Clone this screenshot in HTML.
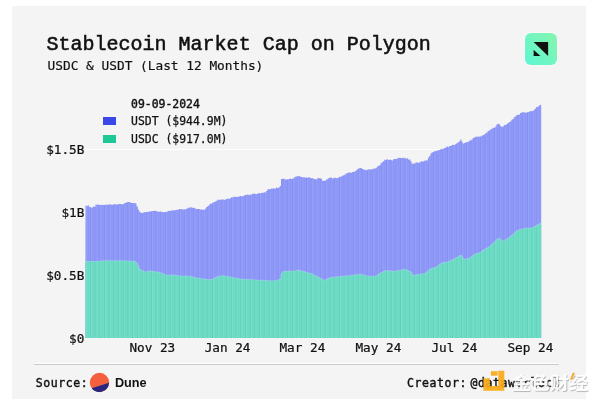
<!DOCTYPE html>
<html lang="en">
<head>
<meta charset="utf-8">
<title>Stablecoin Market Cap on Polygon</title>
<style>
html,body{margin:0;padding:0;background:#fff;}
body{width:600px;height:403px;position:relative;overflow:hidden;font-family:"Liberation Mono","DejaVu Sans Mono",monospace;color:#111;}
.panel{position:absolute;left:12.2px;top:5.8px;width:573.8px;height:393.7px;background:#f4f4f4;}
.t{position:absolute;white-space:pre;line-height:1;-webkit-text-stroke:0.3px #111;}
.title{left:46.6px;top:35px;font-size:20px;-webkit-text-stroke:0.55px #111;}
.dv{font-family:"DejaVu Sans Mono","Liberation Mono",monospace;-webkit-text-stroke:0.25px #111;}
.sub{left:47.6px;top:60.2px;font-size:12.8px;-webkit-text-stroke:0.18px #111;}
.lg{font-size:11.45px;}
.sw{position:absolute;width:13px;height:8px;}
.yt{-webkit-text-stroke:0.22px #111;font-size:12.7px;text-align:right;width:60px;left:24.4px;}
.xt{-webkit-text-stroke:0.22px #111;font-size:12.7px;text-align:center;width:80px;}
.foot{font-family:"DejaVu Sans Mono","Liberation Mono",monospace;font-size:11.5px;letter-spacing:0.58px;-webkit-text-stroke:0.4px #111;}
.sep{position:absolute;left:33.5px;top:363.9px;width:525.8px;height:1px;background:#cbcbcb;box-shadow:0 -1px 0 rgba(255,255,255,.7);}
.grid{position:absolute;left:85px;width:356px;height:1px;background:#fff;}
.dune{position:absolute;left:114.9px;top:376.9px;font:bold 12.7px "Liberation Sans",Arial,sans-serif;line-height:1;color:#111;}
svg{position:absolute;left:0;top:0;}
.wm{position:absolute;left:511.8px;top:375.3px;font:bold 19.2px "Liberation Sans","Noto Sans CJK SC","WenQuanYi Zen Hei",sans-serif;letter-spacing:-0.15px;line-height:1;color:rgba(255,255,255,.94);text-shadow:0.8px 0.8px 0.8px rgba(0,0,0,.25),0 0 2px rgba(255,255,255,.6);white-space:nowrap;transform-origin:0 0;transform:scaleY(0.885);}
</style>
</head>
<body>
<div class="panel"></div>
<div class="t title">Stablecoin Market Cap on Polygon</div>
<div class="t dv sub">USDC &amp; USDT (Last 12 Months)</div>

<div class="grid" style="top:149px"></div>

<svg width="600" height="403" viewBox="0 0 600 403">
  <defs>
    <linearGradient id="lgm" x1="0" y1="1" x2="1" y2="0">
      <stop offset="0" stop-color="#5df6d2"/>
      <stop offset="1" stop-color="#86f5ae"/>
    </linearGradient>
    <pattern id="stripes" width="4.7" height="8" patternUnits="userSpaceOnUse" x="0.6">
      <rect x="0" y="0" width="0.9" height="8" fill="#10206a" fill-opacity="0.09"/>
      <rect x="0.9" y="0" width="0.9" height="8" fill="#fff" fill-opacity="0.08"/>
      <rect x="2.6" y="0" width="0.7" height="8" fill="#1a1a80" fill-opacity="0.04"/>
    </pattern>
  </defs>
  <path fill="#8f99f9" d="M85.50 338.0V205.7h1.245V205.8h1.245V205.5h1.245V206.9h1.245V207.4h1.245V207.4h1.245V206.6h1.245V206.7h1.245V204.5h1.245V204.8h1.245V204.4h1.245V204.9h1.245V205.0h1.245V204.7h1.245V205.1h1.245V205.0h1.245V204.4h1.245V204.8h1.245V204.5h1.245V204.6h1.245V204.4h1.245V204.7h1.245V204.4h1.245V204.1h1.245V204.4h1.245V204.6h1.245V204.1h1.245V203.9h1.245V204.0h1.245V204.4h1.245V203.9h1.245V203.1h1.245V202.8h1.245V202.3h1.245V202.1h1.245V202.0h1.245V202.8h1.245V203.0h1.245V203.0h1.245V203.1h1.245V203.5h1.245V206.4h1.245V209.4h1.245V211.4h1.245V212.7h1.245V213.0h1.245V212.6h1.245V212.2h1.245V212.0h1.245V212.1h1.245V211.7h1.245V211.5h1.245V211.6h1.245V211.0h1.245V211.1h1.245V210.7h1.245V211.1h1.245V211.4h1.245V211.5h1.245V211.7h1.245V211.5h1.245V212.0h1.245V211.9h1.245V212.3h1.245V211.9h1.245V211.7h1.245V210.9h1.245V210.8h1.245V211.1h1.245V210.0h1.245V210.4h1.245V210.2h1.245V210.1h1.245V209.7h1.245V209.7h1.245V209.0h1.245V209.0h1.245V209.3h1.245V209.4h1.245V209.4h1.245V209.1h1.245V208.8h1.245V207.7h1.245V207.7h1.245V207.2h1.245V207.4h1.245V207.9h1.245V207.7h1.245V208.7h1.245V208.9h1.245V209.0h1.245V209.0h1.245V209.5h1.245V209.6h1.245V209.7h1.245V209.8h1.245V208.4h1.245V207.0h1.245V206.1h1.245V204.7h1.245V203.8h1.245V203.5h1.245V202.6h1.245V202.1h1.245V201.5h1.245V200.7h1.245V199.8h1.245V199.8h1.245V199.8h1.245V199.6h1.245V199.5h1.245V199.7h1.245V199.4h1.245V199.0h1.245V198.4h1.245V198.8h1.245V198.2h1.245V197.2h1.245V197.3h1.245V196.7h1.245V196.7h1.245V197.1h1.245V196.8h1.245V196.4h1.245V196.0h1.245V196.2h1.245V196.3h1.245V195.6h1.245V195.1h1.245V194.8h1.245V194.6h1.245V195.2h1.245V194.6h1.245V194.6h1.245V193.7h1.245V193.6h1.245V194.0h1.245V194.0h1.245V193.4h1.245V193.0h1.245V193.6h1.245V192.8h1.245V193.1h1.245V192.3h1.245V192.6h1.245V191.0h1.245V189.6h1.245V189.1h1.245V189.3h1.245V188.5h1.245V188.5h1.245V188.4h1.245V188.6h1.245V187.6h1.245V188.0h1.245V187.6h1.245V186.1h1.245V179.0h1.245V178.8h1.245V178.8h1.245V179.4h1.245V179.6h1.245V179.3h1.245V178.9h1.245V178.5h1.245V178.9h1.245V178.7h1.245V177.7h1.245V176.8h1.245V176.4h1.245V176.2h1.245V176.1h1.245V176.5h1.245V177.1h1.245V177.4h1.245V177.0h1.245V177.7h1.245V177.4h1.245V177.7h1.245V177.1h1.245V178.1h1.245V178.2h1.245V178.1h1.245V179.0h1.245V179.1h1.245V179.4h1.245V178.3h1.245V178.0h1.245V178.4h1.245V178.4h1.245V180.8h1.245V180.7h1.245V180.8h1.245V179.6h1.245V179.3h1.245V177.9h1.245V177.7h1.245V177.4h1.245V178.4h1.245V178.1h1.245V177.8h1.245V178.0h1.245V178.3h1.245V177.2h1.245V176.7h1.245V176.4h1.245V175.8h1.245V175.2h1.245V174.4h1.245V173.4h1.245V173.1h1.245V172.5h1.245V172.4h1.245V172.8h1.245V172.0h1.245V172.0h1.245V171.3h1.245V170.6h1.245V169.3h1.245V168.5h1.245V168.0h1.245V168.1h1.245V169.0h1.245V169.5h1.245V169.7h1.245V170.2h1.245V169.7h1.245V169.2h1.245V169.4h1.245V169.2h1.245V169.2h1.245V168.6h1.245V168.5h1.245V168.2h1.245V166.6h1.245V165.7h1.245V165.2h1.245V163.3h1.245V161.9h1.245V161.2h1.245V159.8h1.245V159.7h1.245V159.3h1.245V159.9h1.245V159.6h1.245V160.0h1.245V160.5h1.245V159.3h1.245V159.0h1.245V159.1h1.245V158.6h1.245V157.8h1.245V158.0h1.245V157.9h1.245V157.8h1.245V158.2h1.245V157.7h1.245V158.7h1.245V158.3h1.245V159.4h1.245V159.6h1.245V161.4h1.245V163.8h1.245V163.4h1.245V163.4h1.245V162.5h1.245V162.6h1.245V162.7h1.245V162.5h1.245V161.5h1.245V161.3h1.245V161.6h1.245V160.8h1.245V160.2h1.245V160.4h1.245V157.8h1.245V155.9h1.245V153.4h1.245V152.6h1.245V151.9h1.245V151.1h1.245V151.2h1.245V150.6h1.245V150.3h1.245V150.0h1.245V149.0h1.245V149.2h1.245V148.7h1.245V147.9h1.245V147.5h1.245V146.6h1.245V146.9h1.245V145.9h1.245V145.9h1.245V145.1h1.245V144.7h1.245V144.9h1.245V144.0h1.245V143.1h1.245V142.2h1.245V141.3h1.245V139.4h1.245V141.7h1.245V143.6h1.245V143.1h1.245V142.5h1.245V142.0h1.245V141.7h1.245V140.8h1.245V140.2h1.245V139.4h1.245V138.0h1.245V137.4h1.245V136.7h1.245V136.7h1.245V136.6h1.245V136.8h1.245V136.4h1.245V135.8h1.245V135.0h1.245V134.4h1.245V133.2h1.245V132.6h1.245V131.1h1.245V130.5h1.245V129.4h1.245V128.8h1.245V127.8h1.245V127.8h1.245V126.6h1.245V124.5h1.245V123.7h1.245V124.2h1.245V126.1h1.245V126.7h1.245V126.6h1.245V125.0h1.245V124.9h1.245V123.9h1.245V123.1h1.245V122.0h1.245V121.4h1.245V119.8h1.245V118.9h1.245V117.1h1.245V116.4h1.245V115.0h1.245V114.9h1.245V114.4h1.245V113.1h1.245V112.5h1.245V112.3h1.245V112.3h1.245V112.7h1.245V112.4h1.245V112.1h1.245V111.8h1.245V111.1h1.245V111.3h1.245V111.0h1.245V109.7h1.245V108.4h1.245V106.9h1.245V106.7h1.245V105.4h1.245V104.8h1.245V338.0z"/>
  <path fill="#6cdec4" d="M85.50 338.0V261.4h1.245V261.4h1.245V261.4h1.245V261.4h1.245V261.3h1.245V261.6h1.245V261.3h1.245V261.6h1.245V261.5h1.245V261.4h1.245V261.1h1.245V261.0h1.245V261.1h1.245V260.9h1.245V260.6h1.245V260.9h1.245V260.5h1.245V260.9h1.245V260.6h1.245V260.6h1.245V260.9h1.245V260.7h1.245V260.8h1.245V260.7h1.245V260.9h1.245V260.8h1.245V260.7h1.245V260.5h1.245V260.7h1.245V260.8h1.245V260.7h1.245V260.9h1.245V260.8h1.245V260.9h1.245V261.0h1.245V261.1h1.245V261.2h1.245V261.2h1.245V261.1h1.245V261.2h1.245V262.3h1.245V263.4h1.245V266.2h1.245V268.9h1.245V270.1h1.245V270.5h1.245V271.0h1.245V271.8h1.245V271.8h1.245V271.5h1.245V271.2h1.245V271.0h1.245V270.8h1.245V271.1h1.245V271.2h1.245V271.7h1.245V272.0h1.245V271.8h1.245V271.9h1.245V272.5h1.245V272.7h1.245V273.4h1.245V273.8h1.245V274.5h1.245V275.0h1.245V275.0h1.245V275.1h1.245V275.2h1.245V274.9h1.245V275.1h1.245V275.0h1.245V275.1h1.245V275.2h1.245V275.7h1.245V275.7h1.245V275.6h1.245V276.0h1.245V276.2h1.245V276.2h1.245V276.0h1.245V275.8h1.245V276.2h1.245V276.3h1.245V276.2h1.245V276.3h1.245V276.6h1.245V277.1h1.245V277.2h1.245V277.9h1.245V278.1h1.245V278.0h1.245V278.6h1.245V278.6h1.245V278.6h1.245V278.8h1.245V279.3h1.245V279.1h1.245V279.5h1.245V279.7h1.245V279.4h1.245V279.7h1.245V279.5h1.245V278.8h1.245V278.4h1.245V277.5h1.245V277.0h1.245V276.3h1.245V276.4h1.245V276.2h1.245V275.9h1.245V275.6h1.245V275.9h1.245V276.2h1.245V276.2h1.245V276.6h1.245V276.8h1.245V277.0h1.245V277.3h1.245V277.8h1.245V277.7h1.245V278.0h1.245V278.2h1.245V278.3h1.245V278.8h1.245V279.1h1.245V279.2h1.245V279.1h1.245V279.1h1.245V279.4h1.245V279.4h1.245V279.5h1.245V279.6h1.245V279.4h1.245V279.9h1.245V279.6h1.245V279.9h1.245V280.1h1.245V280.0h1.245V280.0h1.245V280.2h1.245V280.4h1.245V280.3h1.245V280.1h1.245V280.5h1.245V280.2h1.245V280.6h1.245V280.7h1.245V280.4h1.245V280.7h1.245V280.9h1.245V280.7h1.245V280.8h1.245V280.4h1.245V280.3h1.245V280.0h1.245V279.9h1.245V278.8h1.245V273.8h1.245V271.8h1.245V271.6h1.245V271.6h1.245V271.1h1.245V271.2h1.245V270.9h1.245V271.1h1.245V271.3h1.245V271.1h1.245V271.0h1.245V270.9h1.245V270.4h1.245V270.1h1.245V270.3h1.245V270.5h1.245V271.0h1.245V271.3h1.245V271.4h1.245V271.8h1.245V272.3h1.245V272.7h1.245V273.1h1.245V273.3h1.245V273.5h1.245V274.4h1.245V274.7h1.245V275.7h1.245V275.9h1.245V276.9h1.245V277.3h1.245V278.2h1.245V278.6h1.245V279.6h1.245V280.3h1.245V280.1h1.245V279.5h1.245V278.8h1.245V278.3h1.245V277.8h1.245V277.2h1.245V277.3h1.245V277.2h1.245V277.1h1.245V276.7h1.245V276.9h1.245V276.4h1.245V276.6h1.245V276.3h1.245V276.0h1.245V276.2h1.245V275.7h1.245V276.0h1.245V275.8h1.245V275.8h1.245V275.7h1.245V275.3h1.245V275.1h1.245V275.0h1.245V274.7h1.245V274.9h1.245V274.5h1.245V274.4h1.245V274.3h1.245V274.2h1.245V274.5h1.245V274.9h1.245V275.4h1.245V275.7h1.245V275.9h1.245V275.9h1.245V276.2h1.245V275.9h1.245V276.3h1.245V276.4h1.245V276.4h1.245V275.5h1.245V274.9h1.245V274.1h1.245V273.4h1.245V272.6h1.245V272.2h1.245V271.4h1.245V270.7h1.245V270.6h1.245V270.5h1.245V270.9h1.245V270.8h1.245V270.8h1.245V271.2h1.245V271.0h1.245V271.4h1.245V271.2h1.245V270.7h1.245V270.5h1.245V270.4h1.245V270.1h1.245V269.8h1.245V269.4h1.245V269.2h1.245V269.7h1.245V270.1h1.245V270.8h1.245V271.3h1.245V272.6h1.245V274.2h1.245V275.5h1.245V275.1h1.245V275.0h1.245V274.5h1.245V274.3h1.245V274.2h1.245V274.1h1.245V273.7h1.245V273.8h1.245V273.6h1.245V272.7h1.245V271.7h1.245V270.4h1.245V269.3h1.245V268.8h1.245V268.3h1.245V268.0h1.245V267.7h1.245V267.0h1.245V266.5h1.245V265.4h1.245V264.4h1.245V263.8h1.245V262.9h1.245V262.5h1.245V262.4h1.245V262.3h1.245V261.9h1.245V261.4h1.245V261.2h1.245V260.3h1.245V259.9h1.245V259.3h1.245V258.9h1.245V257.8h1.245V257.4h1.245V256.7h1.245V255.8h1.245V255.1h1.245V256.5h1.245V258.6h1.245V259.3h1.245V259.3h1.245V258.6h1.245V258.5h1.245V257.9h1.245V257.0h1.245V256.3h1.245V255.3h1.245V254.2h1.245V253.7h1.245V253.4h1.245V252.9h1.245V253.1h1.245V252.2h1.245V251.2h1.245V250.1h1.245V249.4h1.245V248.7h1.245V247.9h1.245V247.4h1.245V246.5h1.245V245.7h1.245V244.4h1.245V243.2h1.245V242.1h1.245V240.8h1.245V239.6h1.245V238.8h1.245V238.2h1.245V239.7h1.245V241.0h1.245V240.7h1.245V240.3h1.245V239.6h1.245V239.2h1.245V237.9h1.245V237.5h1.245V236.2h1.245V235.4h1.245V234.2h1.245V233.2h1.245V231.8h1.245V230.6h1.245V230.4h1.245V229.8h1.245V229.6h1.245V229.3h1.245V228.7h1.245V228.6h1.245V228.2h1.245V228.0h1.245V228.1h1.245V228.0h1.245V227.8h1.245V227.8h1.245V227.6h1.245V226.8h1.245V226.0h1.245V225.1h1.245V224.7h1.245V223.9h1.245V223.0h1.245V338.0z"/>
  <path fill="url(#stripes)" d="M85.50 338.0V205.7h1.245V205.8h1.245V205.5h1.245V206.9h1.245V207.4h1.245V207.4h1.245V206.6h1.245V206.7h1.245V204.5h1.245V204.8h1.245V204.4h1.245V204.9h1.245V205.0h1.245V204.7h1.245V205.1h1.245V205.0h1.245V204.4h1.245V204.8h1.245V204.5h1.245V204.6h1.245V204.4h1.245V204.7h1.245V204.4h1.245V204.1h1.245V204.4h1.245V204.6h1.245V204.1h1.245V203.9h1.245V204.0h1.245V204.4h1.245V203.9h1.245V203.1h1.245V202.8h1.245V202.3h1.245V202.1h1.245V202.0h1.245V202.8h1.245V203.0h1.245V203.0h1.245V203.1h1.245V203.5h1.245V206.4h1.245V209.4h1.245V211.4h1.245V212.7h1.245V213.0h1.245V212.6h1.245V212.2h1.245V212.0h1.245V212.1h1.245V211.7h1.245V211.5h1.245V211.6h1.245V211.0h1.245V211.1h1.245V210.7h1.245V211.1h1.245V211.4h1.245V211.5h1.245V211.7h1.245V211.5h1.245V212.0h1.245V211.9h1.245V212.3h1.245V211.9h1.245V211.7h1.245V210.9h1.245V210.8h1.245V211.1h1.245V210.0h1.245V210.4h1.245V210.2h1.245V210.1h1.245V209.7h1.245V209.7h1.245V209.0h1.245V209.0h1.245V209.3h1.245V209.4h1.245V209.4h1.245V209.1h1.245V208.8h1.245V207.7h1.245V207.7h1.245V207.2h1.245V207.4h1.245V207.9h1.245V207.7h1.245V208.7h1.245V208.9h1.245V209.0h1.245V209.0h1.245V209.5h1.245V209.6h1.245V209.7h1.245V209.8h1.245V208.4h1.245V207.0h1.245V206.1h1.245V204.7h1.245V203.8h1.245V203.5h1.245V202.6h1.245V202.1h1.245V201.5h1.245V200.7h1.245V199.8h1.245V199.8h1.245V199.8h1.245V199.6h1.245V199.5h1.245V199.7h1.245V199.4h1.245V199.0h1.245V198.4h1.245V198.8h1.245V198.2h1.245V197.2h1.245V197.3h1.245V196.7h1.245V196.7h1.245V197.1h1.245V196.8h1.245V196.4h1.245V196.0h1.245V196.2h1.245V196.3h1.245V195.6h1.245V195.1h1.245V194.8h1.245V194.6h1.245V195.2h1.245V194.6h1.245V194.6h1.245V193.7h1.245V193.6h1.245V194.0h1.245V194.0h1.245V193.4h1.245V193.0h1.245V193.6h1.245V192.8h1.245V193.1h1.245V192.3h1.245V192.6h1.245V191.0h1.245V189.6h1.245V189.1h1.245V189.3h1.245V188.5h1.245V188.5h1.245V188.4h1.245V188.6h1.245V187.6h1.245V188.0h1.245V187.6h1.245V186.1h1.245V179.0h1.245V178.8h1.245V178.8h1.245V179.4h1.245V179.6h1.245V179.3h1.245V178.9h1.245V178.5h1.245V178.9h1.245V178.7h1.245V177.7h1.245V176.8h1.245V176.4h1.245V176.2h1.245V176.1h1.245V176.5h1.245V177.1h1.245V177.4h1.245V177.0h1.245V177.7h1.245V177.4h1.245V177.7h1.245V177.1h1.245V178.1h1.245V178.2h1.245V178.1h1.245V179.0h1.245V179.1h1.245V179.4h1.245V178.3h1.245V178.0h1.245V178.4h1.245V178.4h1.245V180.8h1.245V180.7h1.245V180.8h1.245V179.6h1.245V179.3h1.245V177.9h1.245V177.7h1.245V177.4h1.245V178.4h1.245V178.1h1.245V177.8h1.245V178.0h1.245V178.3h1.245V177.2h1.245V176.7h1.245V176.4h1.245V175.8h1.245V175.2h1.245V174.4h1.245V173.4h1.245V173.1h1.245V172.5h1.245V172.4h1.245V172.8h1.245V172.0h1.245V172.0h1.245V171.3h1.245V170.6h1.245V169.3h1.245V168.5h1.245V168.0h1.245V168.1h1.245V169.0h1.245V169.5h1.245V169.7h1.245V170.2h1.245V169.7h1.245V169.2h1.245V169.4h1.245V169.2h1.245V169.2h1.245V168.6h1.245V168.5h1.245V168.2h1.245V166.6h1.245V165.7h1.245V165.2h1.245V163.3h1.245V161.9h1.245V161.2h1.245V159.8h1.245V159.7h1.245V159.3h1.245V159.9h1.245V159.6h1.245V160.0h1.245V160.5h1.245V159.3h1.245V159.0h1.245V159.1h1.245V158.6h1.245V157.8h1.245V158.0h1.245V157.9h1.245V157.8h1.245V158.2h1.245V157.7h1.245V158.7h1.245V158.3h1.245V159.4h1.245V159.6h1.245V161.4h1.245V163.8h1.245V163.4h1.245V163.4h1.245V162.5h1.245V162.6h1.245V162.7h1.245V162.5h1.245V161.5h1.245V161.3h1.245V161.6h1.245V160.8h1.245V160.2h1.245V160.4h1.245V157.8h1.245V155.9h1.245V153.4h1.245V152.6h1.245V151.9h1.245V151.1h1.245V151.2h1.245V150.6h1.245V150.3h1.245V150.0h1.245V149.0h1.245V149.2h1.245V148.7h1.245V147.9h1.245V147.5h1.245V146.6h1.245V146.9h1.245V145.9h1.245V145.9h1.245V145.1h1.245V144.7h1.245V144.9h1.245V144.0h1.245V143.1h1.245V142.2h1.245V141.3h1.245V139.4h1.245V141.7h1.245V143.6h1.245V143.1h1.245V142.5h1.245V142.0h1.245V141.7h1.245V140.8h1.245V140.2h1.245V139.4h1.245V138.0h1.245V137.4h1.245V136.7h1.245V136.7h1.245V136.6h1.245V136.8h1.245V136.4h1.245V135.8h1.245V135.0h1.245V134.4h1.245V133.2h1.245V132.6h1.245V131.1h1.245V130.5h1.245V129.4h1.245V128.8h1.245V127.8h1.245V127.8h1.245V126.6h1.245V124.5h1.245V123.7h1.245V124.2h1.245V126.1h1.245V126.7h1.245V126.6h1.245V125.0h1.245V124.9h1.245V123.9h1.245V123.1h1.245V122.0h1.245V121.4h1.245V119.8h1.245V118.9h1.245V117.1h1.245V116.4h1.245V115.0h1.245V114.9h1.245V114.4h1.245V113.1h1.245V112.5h1.245V112.3h1.245V112.3h1.245V112.7h1.245V112.4h1.245V112.1h1.245V111.8h1.245V111.1h1.245V111.3h1.245V111.0h1.245V109.7h1.245V108.4h1.245V106.9h1.245V106.7h1.245V105.4h1.245V104.8h1.245V338.0z"/>
  <path fill="none" stroke="#b4e4f0" stroke-opacity="0.55" stroke-width="0.7" d="M85.50 261.4V261.4h1.245V261.4h1.245V261.4h1.245V261.4h1.245V261.3h1.245V261.6h1.245V261.3h1.245V261.6h1.245V261.5h1.245V261.4h1.245V261.1h1.245V261.0h1.245V261.1h1.245V260.9h1.245V260.6h1.245V260.9h1.245V260.5h1.245V260.9h1.245V260.6h1.245V260.6h1.245V260.9h1.245V260.7h1.245V260.8h1.245V260.7h1.245V260.9h1.245V260.8h1.245V260.7h1.245V260.5h1.245V260.7h1.245V260.8h1.245V260.7h1.245V260.9h1.245V260.8h1.245V260.9h1.245V261.0h1.245V261.1h1.245V261.2h1.245V261.2h1.245V261.1h1.245V261.2h1.245V262.3h1.245V263.4h1.245V266.2h1.245V268.9h1.245V270.1h1.245V270.5h1.245V271.0h1.245V271.8h1.245V271.8h1.245V271.5h1.245V271.2h1.245V271.0h1.245V270.8h1.245V271.1h1.245V271.2h1.245V271.7h1.245V272.0h1.245V271.8h1.245V271.9h1.245V272.5h1.245V272.7h1.245V273.4h1.245V273.8h1.245V274.5h1.245V275.0h1.245V275.0h1.245V275.1h1.245V275.2h1.245V274.9h1.245V275.1h1.245V275.0h1.245V275.1h1.245V275.2h1.245V275.7h1.245V275.7h1.245V275.6h1.245V276.0h1.245V276.2h1.245V276.2h1.245V276.0h1.245V275.8h1.245V276.2h1.245V276.3h1.245V276.2h1.245V276.3h1.245V276.6h1.245V277.1h1.245V277.2h1.245V277.9h1.245V278.1h1.245V278.0h1.245V278.6h1.245V278.6h1.245V278.6h1.245V278.8h1.245V279.3h1.245V279.1h1.245V279.5h1.245V279.7h1.245V279.4h1.245V279.7h1.245V279.5h1.245V278.8h1.245V278.4h1.245V277.5h1.245V277.0h1.245V276.3h1.245V276.4h1.245V276.2h1.245V275.9h1.245V275.6h1.245V275.9h1.245V276.2h1.245V276.2h1.245V276.6h1.245V276.8h1.245V277.0h1.245V277.3h1.245V277.8h1.245V277.7h1.245V278.0h1.245V278.2h1.245V278.3h1.245V278.8h1.245V279.1h1.245V279.2h1.245V279.1h1.245V279.1h1.245V279.4h1.245V279.4h1.245V279.5h1.245V279.6h1.245V279.4h1.245V279.9h1.245V279.6h1.245V279.9h1.245V280.1h1.245V280.0h1.245V280.0h1.245V280.2h1.245V280.4h1.245V280.3h1.245V280.1h1.245V280.5h1.245V280.2h1.245V280.6h1.245V280.7h1.245V280.4h1.245V280.7h1.245V280.9h1.245V280.7h1.245V280.8h1.245V280.4h1.245V280.3h1.245V280.0h1.245V279.9h1.245V278.8h1.245V273.8h1.245V271.8h1.245V271.6h1.245V271.6h1.245V271.1h1.245V271.2h1.245V270.9h1.245V271.1h1.245V271.3h1.245V271.1h1.245V271.0h1.245V270.9h1.245V270.4h1.245V270.1h1.245V270.3h1.245V270.5h1.245V271.0h1.245V271.3h1.245V271.4h1.245V271.8h1.245V272.3h1.245V272.7h1.245V273.1h1.245V273.3h1.245V273.5h1.245V274.4h1.245V274.7h1.245V275.7h1.245V275.9h1.245V276.9h1.245V277.3h1.245V278.2h1.245V278.6h1.245V279.6h1.245V280.3h1.245V280.1h1.245V279.5h1.245V278.8h1.245V278.3h1.245V277.8h1.245V277.2h1.245V277.3h1.245V277.2h1.245V277.1h1.245V276.7h1.245V276.9h1.245V276.4h1.245V276.6h1.245V276.3h1.245V276.0h1.245V276.2h1.245V275.7h1.245V276.0h1.245V275.8h1.245V275.8h1.245V275.7h1.245V275.3h1.245V275.1h1.245V275.0h1.245V274.7h1.245V274.9h1.245V274.5h1.245V274.4h1.245V274.3h1.245V274.2h1.245V274.5h1.245V274.9h1.245V275.4h1.245V275.7h1.245V275.9h1.245V275.9h1.245V276.2h1.245V275.9h1.245V276.3h1.245V276.4h1.245V276.4h1.245V275.5h1.245V274.9h1.245V274.1h1.245V273.4h1.245V272.6h1.245V272.2h1.245V271.4h1.245V270.7h1.245V270.6h1.245V270.5h1.245V270.9h1.245V270.8h1.245V270.8h1.245V271.2h1.245V271.0h1.245V271.4h1.245V271.2h1.245V270.7h1.245V270.5h1.245V270.4h1.245V270.1h1.245V269.8h1.245V269.4h1.245V269.2h1.245V269.7h1.245V270.1h1.245V270.8h1.245V271.3h1.245V272.6h1.245V274.2h1.245V275.5h1.245V275.1h1.245V275.0h1.245V274.5h1.245V274.3h1.245V274.2h1.245V274.1h1.245V273.7h1.245V273.8h1.245V273.6h1.245V272.7h1.245V271.7h1.245V270.4h1.245V269.3h1.245V268.8h1.245V268.3h1.245V268.0h1.245V267.7h1.245V267.0h1.245V266.5h1.245V265.4h1.245V264.4h1.245V263.8h1.245V262.9h1.245V262.5h1.245V262.4h1.245V262.3h1.245V261.9h1.245V261.4h1.245V261.2h1.245V260.3h1.245V259.9h1.245V259.3h1.245V258.9h1.245V257.8h1.245V257.4h1.245V256.7h1.245V255.8h1.245V255.1h1.245V256.5h1.245V258.6h1.245V259.3h1.245V259.3h1.245V258.6h1.245V258.5h1.245V257.9h1.245V257.0h1.245V256.3h1.245V255.3h1.245V254.2h1.245V253.7h1.245V253.4h1.245V252.9h1.245V253.1h1.245V252.2h1.245V251.2h1.245V250.1h1.245V249.4h1.245V248.7h1.245V247.9h1.245V247.4h1.245V246.5h1.245V245.7h1.245V244.4h1.245V243.2h1.245V242.1h1.245V240.8h1.245V239.6h1.245V238.8h1.245V238.2h1.245V239.7h1.245V241.0h1.245V240.7h1.245V240.3h1.245V239.6h1.245V239.2h1.245V237.9h1.245V237.5h1.245V236.2h1.245V235.4h1.245V234.2h1.245V233.2h1.245V231.8h1.245V230.6h1.245V230.4h1.245V229.8h1.245V229.6h1.245V229.3h1.245V228.7h1.245V228.6h1.245V228.2h1.245V228.0h1.245V228.1h1.245V228.0h1.245V227.8h1.245V227.8h1.245V227.6h1.245V226.8h1.245V226.0h1.245V225.1h1.245V224.7h1.245V223.9h1.245V223.0h1.245"/>
  <!-- brand logo -->
  <rect x="524.3" y="32.3" width="33.4" height="33.4" rx="6.7" fill="#fff" fill-opacity="0.55"/>
  <rect x="525" y="33" width="32" height="32" rx="6" fill="url(#lgm)"/>
  <path d="M533.6 42.1H548.1V56Z" fill="#111"/>
  <path d="M533.6 49.8V56H540.4Z" fill="#111"/>
  <!-- dune logo -->
  <circle cx="99.5" cy="382.5" r="9.7" fill="#f4603e"/>
  <path d="M91.7 388.25 L109.0 382.7 A9.7 9.7 0 0 1 91.7 388.25Z" fill="#28267f"/>
</svg>

<div class="t dv lg" style="left:131px;top:98.7px;-webkit-text-stroke:0.4px #111;">09-09-2024</div>
<div class="sw" style="left:103px;top:117px;background:#3b48e8;"></div>
<div class="t dv lg" style="left:131px;top:116.2px;">USDT ($944.9M)</div>
<div class="sw" style="left:103px;top:135px;background:#1bc896;"></div>
<div class="t dv lg" style="left:131px;top:134.2px;">USDC ($917.0M)</div>

<div class="t dv yt" style="top:144.2px">$1.5B</div>
<div class="t dv yt" style="top:207.2px">$1B</div>
<div class="t dv yt" style="top:270.2px">$0.5B</div>
<div class="t dv yt" style="top:333px">$0</div>

<div class="t dv xt" style="left:112.3px;top:341.7px">Nov 23</div>
<div class="t dv xt" style="left:187.6px;top:341.7px">Jan 24</div>
<div class="t dv xt" style="left:262.4px;top:341.7px">Mar 24</div>
<div class="t dv xt" style="left:338.4px;top:341.7px">May 24</div>
<div class="t dv xt" style="left:414.4px;top:341.7px">Jul 24</div>
<div class="t dv xt" style="left:490.4px;top:341.7px">Sep 24</div>

<div class="sep"></div>
<div class="t foot" style="left:35.7px;top:378px">Source:</div>
<div class="dune">Dune</div>
<div class="t foot" style="left:406.9px;top:378px">Creator:</div>
<div class="t foot" style="left:470.5px;top:378px">@datawarlock</div>

<svg width="600" height="403" viewBox="0 0 600 403">
  <!-- watermark logo -->
  <g fill="#f9a918" fill-opacity="0.93">
    <rect x="490.9" y="371.2" width="6.7" height="4.5"/>
    <path d="M498.3 370.8H504.3V390.7H483.4V378.3H489.9V386.1H498.3Z"/>
  </g>
</svg>
<div class="wm">金色财经</div>
<svg width="600" height="403" viewBox="0 0 600 403">
  <path d="M572.8 372.5l2.2 0.8-2.9 7-2.1-0.9z" fill="#eeae38"/>
</svg>
</body>
</html>
